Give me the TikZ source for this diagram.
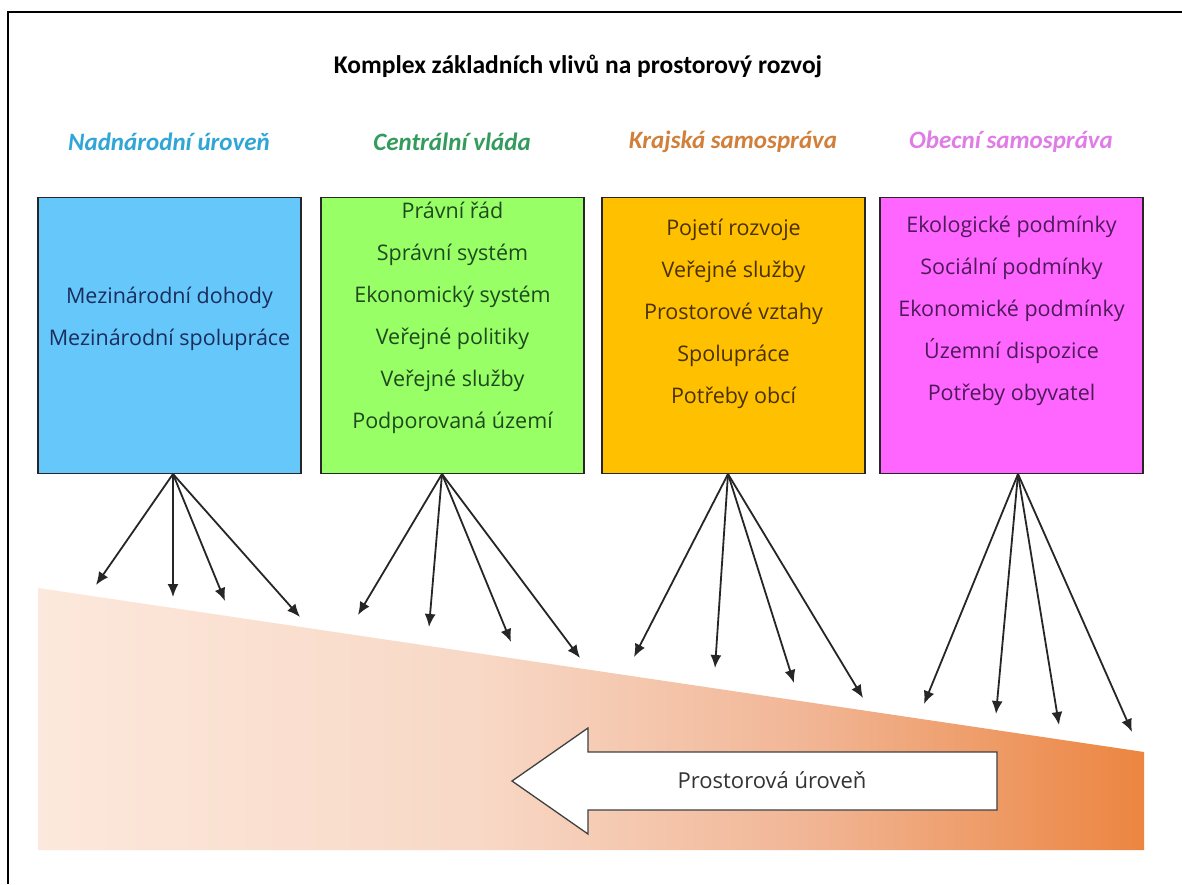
\documentclass[tikz,border=0pt]{standalone}
\usepackage{fontspec}
\setmainfont{Carlito}
\newfontfamily\boxfont{Open Sans}
\usetikzlibrary{arrows.meta}
\definecolor{bxblue}{HTML}{66C8FA}
\definecolor{bxgreen}{HTML}{99FF66}
\definecolor{bxorange}{HTML}{FFC000}
\definecolor{bxmagenta}{HTML}{FF66FF}
\definecolor{hdblue}{HTML}{2FA6D6}
\definecolor{hdgreen}{HTML}{339B5C}
\definecolor{hdorange}{HTML}{D0803A}
\definecolor{hdmagenta}{HTML}{E07CE6}
\definecolor{txblue}{HTML}{1A2D5C}
\definecolor{txgreen}{HTML}{1F4A1F}
\definecolor{txorange}{HTML}{4A3200}
\definecolor{txmagenta}{HTML}{4E1A5A}
\definecolor{wA}{HTML}{FCE8DC}
\definecolor{wB}{HTML}{F8D8C6}
\definecolor{wC}{HTML}{F1B594}
\definecolor{wD}{HTML}{EC8540}
\pgfdeclarehorizontalshading{wedgeshade}{100bp}{color(0bp)=(wA); color(25bp)=(wA); color(45bp)=(wB); color(60bp)=(wC); color(75bp)=(wD); color(100bp)=(wD)}
\tikzset{
  colbox/.style={draw=black!85, line width=1.3pt, minimum width=263pt, minimum height=276pt, inner sep=0pt},
  boxtext/.style={align=center, inner sep=0pt, font=\boxfont\fontsize{21.5}{42}\selectfont},
  header/.style={font=\fontsize{25}{30}\selectfont\bfseries\itshape, inner sep=0pt},
  infl/.style={draw=black!85, line width=1.8pt, -{Latex[length=13pt,width=11pt]}},
}
\begin{document}
\begin{tikzpicture}[x=1pt,y=-1pt]
\useasboundingbox (0,0) rectangle (1182,884);
\fill[white] (0,0) rectangle (1182,884);
\draw[line width=1.2pt] (8,884) -- (8,12) -- (1182,12);

% title
\node[font=\fontsize{25.5}{30}\selectfont\bfseries, inner sep=0pt] (title) at (578,66) {Komplex základních vlivů na prostorový rozvoj};

% headers
\node[header, text=hdblue] (h1) at (169,142) {Nadnárodní úroveň};
\node[header, text=hdgreen] (h2) at (452,142) {Centrální vláda};
\node[header, text=hdorange] (h3) at (733,142) {Krajská samospráva};
\node[header, text=hdmagenta] (h4) at (1011,142) {Obecní samospráva};

% gradient wedge
\shade[shading=wedgeshade] (38,588) -- (1144,752) -- (1144,850) -- (38,850) -- cycle;

% boxes
\node[colbox, fill=bxblue] (b1) at (169.5,335.5) {};
\node[colbox, fill=bxgreen] (b2) at (452.5,335.5) {};
\node[colbox, fill=bxorange] (b3) at (733.5,335.5) {};
\node[colbox, fill=bxmagenta] (b4) at (1011.5,335.5) {};

\node[boxtext, text=txblue] (t1) at (169.5,319) {Mezinárodní dohody\\Mezinárodní spolupráce};
\node[boxtext, text=txgreen] (t2) at (452.5,318) {Právní řád\\Správní systém\\Ekonomický systém\\Veřejné politiky\\Veřejné služby\\Podporovaná území};
\node[boxtext, text=txorange] (t3) at (733.5,313.5) {Pojetí rozvoje\\Veřejné služby\\Prostorové vztahy\\Spolupráce\\Potřeby obcí};
\node[boxtext, text=txmagenta] (t4) at (1011.5,310.5) {Ekologické podmínky\\Sociální podmínky\\Ekonomické podmínky\\Územní dispozice\\Potřeby obyvatel};

% origins of influence arrows
\coordinate (o1) at (173,474);
\coordinate (o2) at (442,474);
\coordinate (o3) at (728,474);
\coordinate (o4) at (1018,474);

% arrow ends
\coordinate (e11) at (96,585);
\coordinate (e12) at (173,597);
\coordinate (e13) at (225,601);
\coordinate (e14) at (300,617);
\coordinate (e21) at (358,615);
\coordinate (e22) at (429,627);
\coordinate (e23) at (511,642);
\coordinate (e24) at (580,658);
\coordinate (e31) at (634,657);
\coordinate (e32) at (715,668);
\coordinate (e33) at (794,683);
\coordinate (e34) at (863,698);
\coordinate (e41) at (924,704);
\coordinate (e42) at (996,714);
\coordinate (e43) at (1059,725);
\coordinate (e44) at (1132,732);

\foreach \i in {1,2,3,4}{
  \foreach \j in {1,2,3,4}{
    \draw[infl] (o\i) -- (e\i\j);
  }
}

% big arrow
\draw[draw=black!75, line width=1.3pt, fill=white, line join=miter]
  (997,752) -- (588,752) -- (588,728) -- (512,781) -- (588,834) -- (588,810) -- (997,810) -- cycle;
\node[font=\boxfont\fontsize{22}{26}\selectfont, text=black!80, inner sep=0pt] (lvl) at (772,780) {Prostorová úroveň};
\end{tikzpicture}
\end{document}
